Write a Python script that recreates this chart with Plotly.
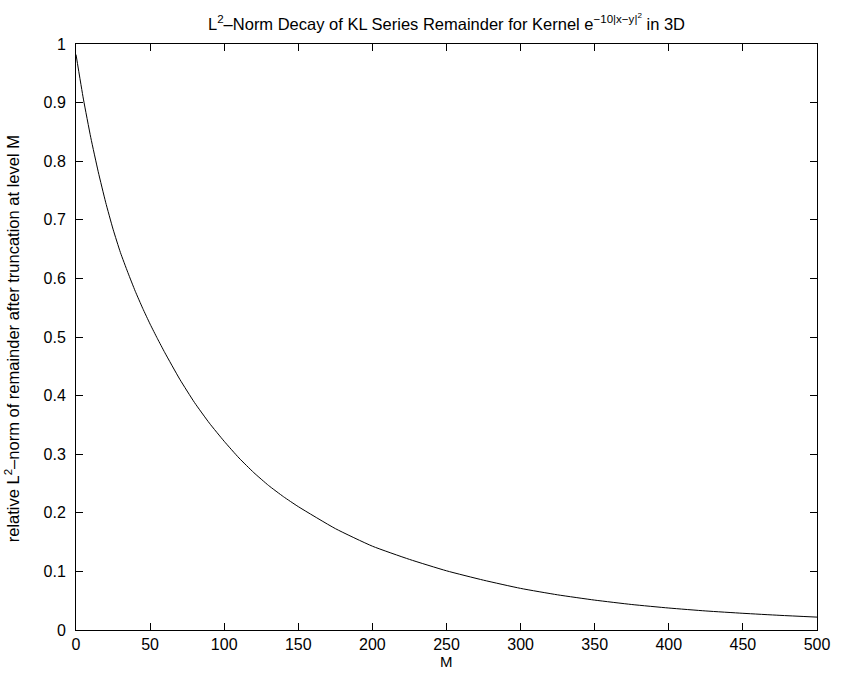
import plotly.graph_objects as go

M_vals = [0, 5, 10, 15, 20, 25, 30, 35, 40, 45, 50, 55, 60, 70, 80, 90, 100, 110, 120, 130, 140, 150,
          175, 200, 225, 250, 275, 300, 325, 350, 375, 400, 425, 450, 475, 500]
rel_norm = [0.982, 0.906, 0.840, 0.782, 0.730, 0.684, 0.644, 0.610, 0.578, 0.549, 0.522, 0.497, 0.473,
            0.428, 0.388, 0.353, 0.322, 0.2935, 0.2685, 0.2465, 0.2275, 0.2105,
            0.173, 0.143, 0.1205, 0.101, 0.085, 0.071, 0.060, 0.051, 0.0435, 0.0375, 0.0325, 0.0285, 0.025, 0.022]

x_ticks = [0, 50, 100, 150, 200, 250, 300, 350, 400, 450, 500]
y_ticks = [0, 0.1, 0.2, 0.3, 0.4, 0.5, 0.6, 0.7, 0.8, 0.9, 1]
y_tick_text = ["0", "0.1", "0.2", "0.3", "0.4", "0.5", "0.6", "0.7", "0.8", "0.9", "1"]

title_text = "L<sup>2</sup>–Norm Decay of KL Series Remainder for Kernel e<sup>−10|x−y|<sup>2</sup></sup> in 3D"
ylabel_text = "relative L<sup>2</sup>–norm of remainder after truncation at level M"
xlabel_text = "M"

FONT = "Liberation Sans, Arial, Helvetica, sans-serif"
FS = 16.5

fig = go.Figure()
fig.add_trace(go.Scatter(x=M_vals, y=rel_norm, mode="lines",
                         line=dict(color="black", width=1, shape="spline", smoothing=0.5),
                         showlegend=False, hoverinfo="skip"))

axis_common = dict(showline=True, linecolor="black", linewidth=1, mirror="ticks",
                   ticks="inside", ticklen=7, tickwidth=1, tickcolor="black",
                   showgrid=False, zeroline=False,
                   tickfont=dict(family=FONT, size=16, color="black"))

fig.update_xaxes(range=[0, 500], tickvals=x_ticks, ticktext=[str(t) for t in x_ticks],
                 ticklabelstandoff=0, **axis_common)
fig.update_yaxes(range=[0, 1], tickvals=y_ticks, ticktext=y_tick_text,
                 ticklabelstandoff=6, **axis_common)

fig.update_layout(
    width=845, height=673,
    margin=dict(l=76, r=28, t=44, b=43),
    paper_bgcolor="white", plot_bgcolor="white",
    font=dict(family=FONT, size=FS, color="black"),
    annotations=[
        dict(text=title_text, xref="paper", yref="paper", x=0.5, y=1, yshift=9,
             xanchor="center", yanchor="bottom", showarrow=False,
             font=dict(family=FONT, size=FS, color="black")),
        dict(text=ylabel_text, xref="paper", yref="paper", x=-0.086, y=0.5, yshift=-2,
             xanchor="center", yanchor="middle", textangle=-90, showarrow=False,
             font=dict(family=FONT, size=FS, color="black")),
        dict(text=xlabel_text, xref="paper", yref="paper", x=0.5, y=0, yshift=-31,
             xanchor="center", yanchor="middle", showarrow=False,
             font=dict(family=FONT, size=15, color="black")),
    ],
)

fig.write_html("out.html", config={"displayModeBar": False},
               post_script="document.body.style.margin='0';document.body.style.overflow='hidden';")
